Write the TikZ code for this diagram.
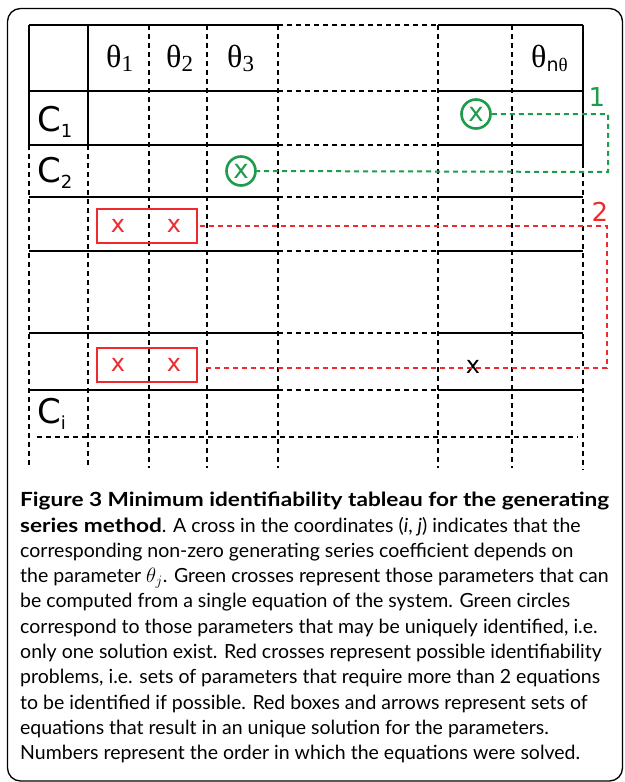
\documentclass[tikz,border=0pt]{standalone}
\usepackage{fontspec}
\setmainfont{Lato}[BoldFeatures={FakeStretch=1.16}]
\newfontfamily\grfont{Liberation Serif}
\newfontfamily\sffont{DejaVu Sans}
\usetikzlibrary{positioning}
\definecolor{tabgreen}{RGB}{30,155,75}
\definecolor{tabred}{RGB}{237,43,47}
\newcommand{\thlabel}[1]{{\grfont\fontsize{32}{32}\selectfont θ\raisebox{-4pt}{\fontsize{23}{23}\selectfont #1}}}
\newcommand{\clabel}[1]{{\sffont\fontsize{34}{34}\selectfont C\raisebox{-6pt}{\fontsize{18}{18}\selectfont #1}}}

\begin{document}
\begin{tikzpicture}[x=1pt, y=-1pt,
	rule/.style={line width=1.8pt},
	dashrule/.style={line width=1.3pt, dash pattern=on 5pt off 4pt},
	headtext/.style={inner sep=0pt, anchor=base west},
	crossmark/.style={inner sep=0pt, font=\sffont\fontsize{24}{24}\selectfont},
	ringmark/.style={circle, draw=tabgreen, line width=2.6pt, minimum size=29pt, inner sep=0pt, text=tabgreen, font=\sffont\fontsize{26}{26}\selectfont},
	redbox/.style={draw=tabred, line width=2pt, minimum width=100pt, minimum height=34pt, inner sep=0pt},
	greenlink/.style={draw=tabgreen, line width=2pt, dash pattern=on 5pt off 4pt},
	redlink/.style={draw=tabred, line width=2pt, dash pattern=on 5pt off 4pt},
	steplabel/.style={inner sep=0pt, font=\sffont\fontsize{26}{26}\selectfont}]

	\useasboundingbox (0,0) rectangle (624,782);
	\draw[line width=1.3pt, rounded corners=13pt] (7.5,8.5) rectangle (622.5,781);

	% rows of the tableau
	\foreach \y in {25,91,145,197,251,333,390} {
		\draw[rule]		(29,\y) -- (278,\y);
		\draw[dashrule]	(278,\y) -- (438,\y);
		\draw[rule]		(438,\y) -- (583,\y);
	}
	\draw[dashrule] (37,437) -- (578,437);

	% columns of the tableau
	\foreach \x in {29,88} {
		\draw[rule]		(\x,25) -- (\x,145);
		\draw[dashrule]	(\x,145) -- (\x,468);
	}
	\foreach \x in {149,207,278,438,512}
		\draw[dashrule] (\x,25) -- (\x,468);
	\draw[rule]		(583,25) -- (583,163);
	\draw[dashrule]	(583,163) -- (583,470);

	\node[headtext] (th1) at (106,67)	{\thlabel{1}};
	\node[headtext] (th2) at (166,67)	{\thlabel{2}};
	\node[headtext] (th3) at (227,67)	{\thlabel{3}};
	\node[headtext] (thn) at (531,67)	{{\grfont\fontsize{32}{32}\selectfont θ\raisebox{-4pt}{\fontsize{19}{19}\selectfont{\sffont n}θ}}};

	\node[headtext] (c1) at (37,131)	{\clabel{1}};
	\node[headtext] (c2) at (37,182)	{\clabel{2}};
	\node[headtext] (ci) at (37,423)	{\clabel{i}};

	\node[ringmark] (g1) at (476,114)	{x};
	\node[ringmark] (g2) at (241,171)	{x};

	\node[redbox] (b1) at (147,226)	{};
	\node[redbox] (b2) at (147,365)	{};
	\node[crossmark, text=tabred] (x11) at (118,226)	{x};
	\node[crossmark, text=tabred] (x12) at (174,226)	{x};
	\node[crossmark, text=tabred] (x21) at (118,365)	{x};
	\node[crossmark, text=tabred] (x22) at (174,365)	{x};
	\node[crossmark] (xn) at (473,367)	{x};

	\coordinate (gturn) at (608,172);
	\coordinate (rturn) at (607,368);
	\draw[greenlink] (g1.east) -| (gturn) -- (g2.east);
	\draw[redlink, shorten <=2pt] (b1.east) -| (rturn) -- ([xshift=8pt]b2.east |- rturn);

	\node[steplabel, text=tabgreen]	(s1) at (597,97)	{1};
	\node[steplabel, text=tabred]	(s2) at (600,212)	{2};

	\node[inner sep=0pt, anchor=north west, align=left, font=\fontsize{19.5}{25.3}\selectfont] (caption) at (20,492) {%
		\textbf{Figure 3 Minimum identifiability tableau for the generating}\\
		\textbf{series method}. A cross in the coordinates (\textit{i}, \textit{j}) indicates that the\\
		corresponding non-zero generating series coefficient depends on\\
		the parameter $\theta_j$. Green crosses represent those parameters that can\\
		be computed from a single equation of the system. Green circles\\
		correspond to those parameters that may be uniquely identified, i.e.\\
		only one solution exist. Red crosses represent possible identifiability\\
		problems, i.e. sets of parameters that require more than 2 equations\\
		to be identified if possible. Red boxes and arrows represent sets of\\
		equations that result in an unique solution for the parameters.\\
		Numbers represent the order in which the equations were solved.};
\end{tikzpicture}
\end{document}
